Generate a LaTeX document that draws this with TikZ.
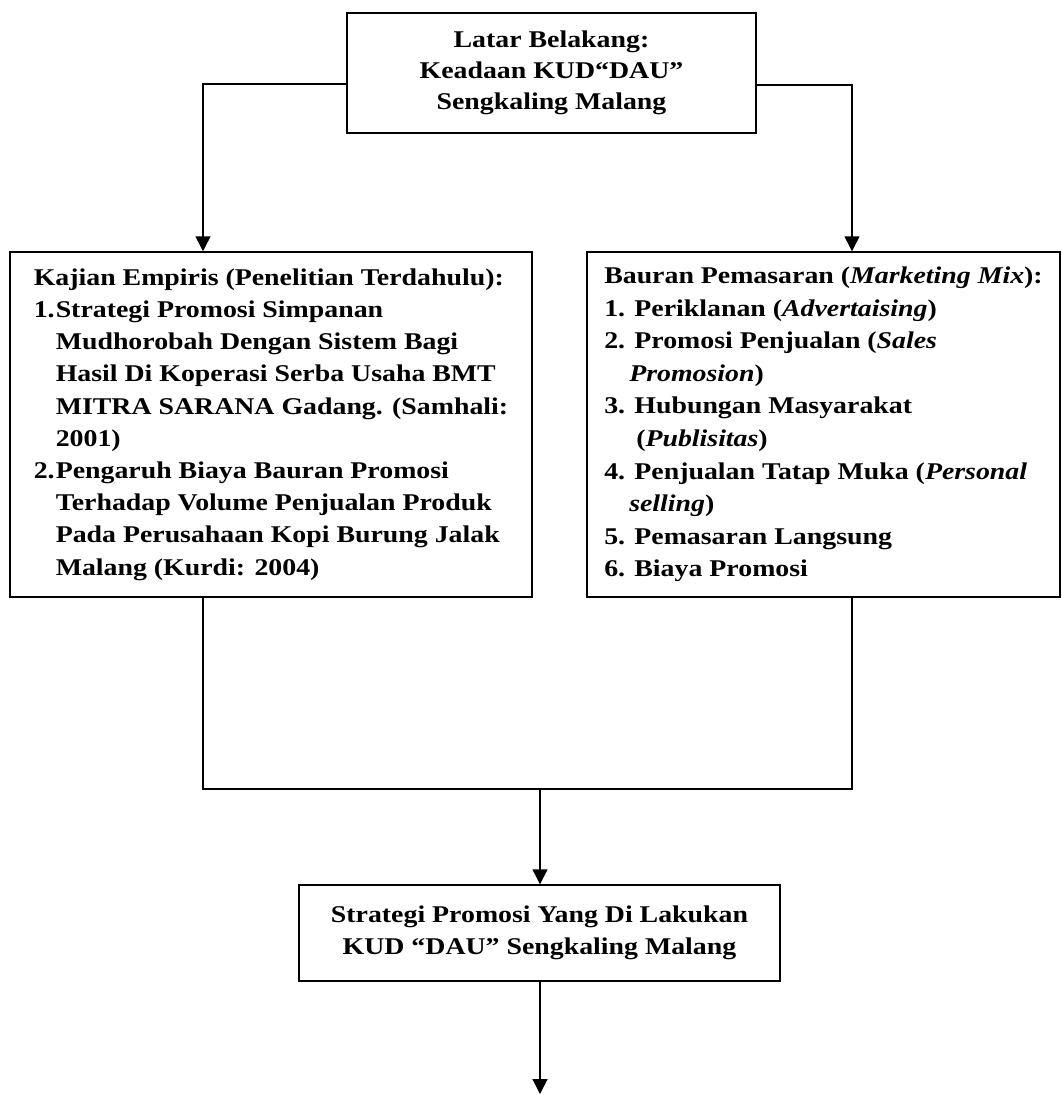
\documentclass[tikz,border=0pt]{standalone}
\usepackage{fontspec}
\setmainfont{Liberation Serif}[FakeStretch=1.16]
\usetikzlibrary{arrows.meta}
\newcommand\numl[1]{\makebox[22pt][l]{#1}}
\begin{document}
\begin{tikzpicture}[x=1pt,y=-1pt,
  box/.style={draw, line width=1.5pt, inner sep=0pt},
  conn/.style={line width=1.5pt},
  arr/.style={conn, -{Triangle[width=15pt,length=15pt]}}]
\useasboundingbox[fill=white] (0,0) rectangle (1062,1095);
\node[box, minimum width=409pt, minimum height=120pt, align=center,
      font=\bfseries\fontsize{24}{31}\selectfont] (top) at (551.5,73)
  {Latar Belakang:\\Keadaan KUD“DAU”\\Sengkaling Malang};
\node[box, minimum width=522pt, minimum height=345pt, align=left,
      font=\bfseries\fontsize{24}{32.2}\selectfont] (left) at (271,424.5)
  {Kajian Empiris (Penelitian Terdahulu):\\
   \numl{1.}Strategi Promosi Simpanan\\
   \hspace*{22pt}Mudhorobah Dengan Sistem Bagi\\
   \hspace*{22pt}Hasil Di Koperasi Serba Usaha BMT\\
   \hspace*{22pt}MITRA SARANA Gadang. (Samhali:\\
   \hspace*{22pt}2001)\\
   \numl{2.}Pengaruh Biaya Bauran Promosi\\
   \hspace*{22pt}Terhadap Volume Penjualan Produk\\
   \hspace*{22pt}Pada Perusahaan Kopi Burung Jalak\\
   \hspace*{22pt}Malang (Kurdi: 2004)};
\node[box, minimum width=473pt, minimum height=345pt, align=left,
      font=\bfseries\fontsize{24}{32.6}\selectfont] (right) at (823.5,424.5)
  {Bauran Pemasaran (\textit{Marketing Mix}):\\
   1. Periklanan (\textit{Advertaising})\\
   2. Promosi Penjualan (\textit{Sales}\\
   \hspace*{25pt}\textit{Promosion})\\
   3. Hubungan Masyarakat\\
   \hspace*{32pt}(\textit{Publisitas})\\
   4. Penjualan Tatap Muka (\textit{Personal}\\
   \hspace*{25pt}\textit{selling})\\
   5. Pemasaran Langsung\\
   6. Biaya Promosi};
\node[box, minimum width=481pt, minimum height=96pt, align=center,
      font=\bfseries\fontsize{24}{31.5}\selectfont] (bottom) at (539.5,933)
  {Strategi Promosi Yang Di Lakukan\\KUD “DAU” Sengkaling Malang};
\coordinate (j) at (540,789);
\coordinate (end) at (540,1094);
\draw[arr] (top.west |- 0,84) -| (left.north -| 203,0);
\draw[arr] (top.east |- 0,85) -| (right.north -| 852,0);
\draw[conn] (left.south -| 203,0) |- (j) -| (right.south -| 852,0);
\draw[arr] (j) -- (bottom.north -| j);
\draw[arr] (bottom.south -| end) -- (end);
\end{tikzpicture}
\end{document}
